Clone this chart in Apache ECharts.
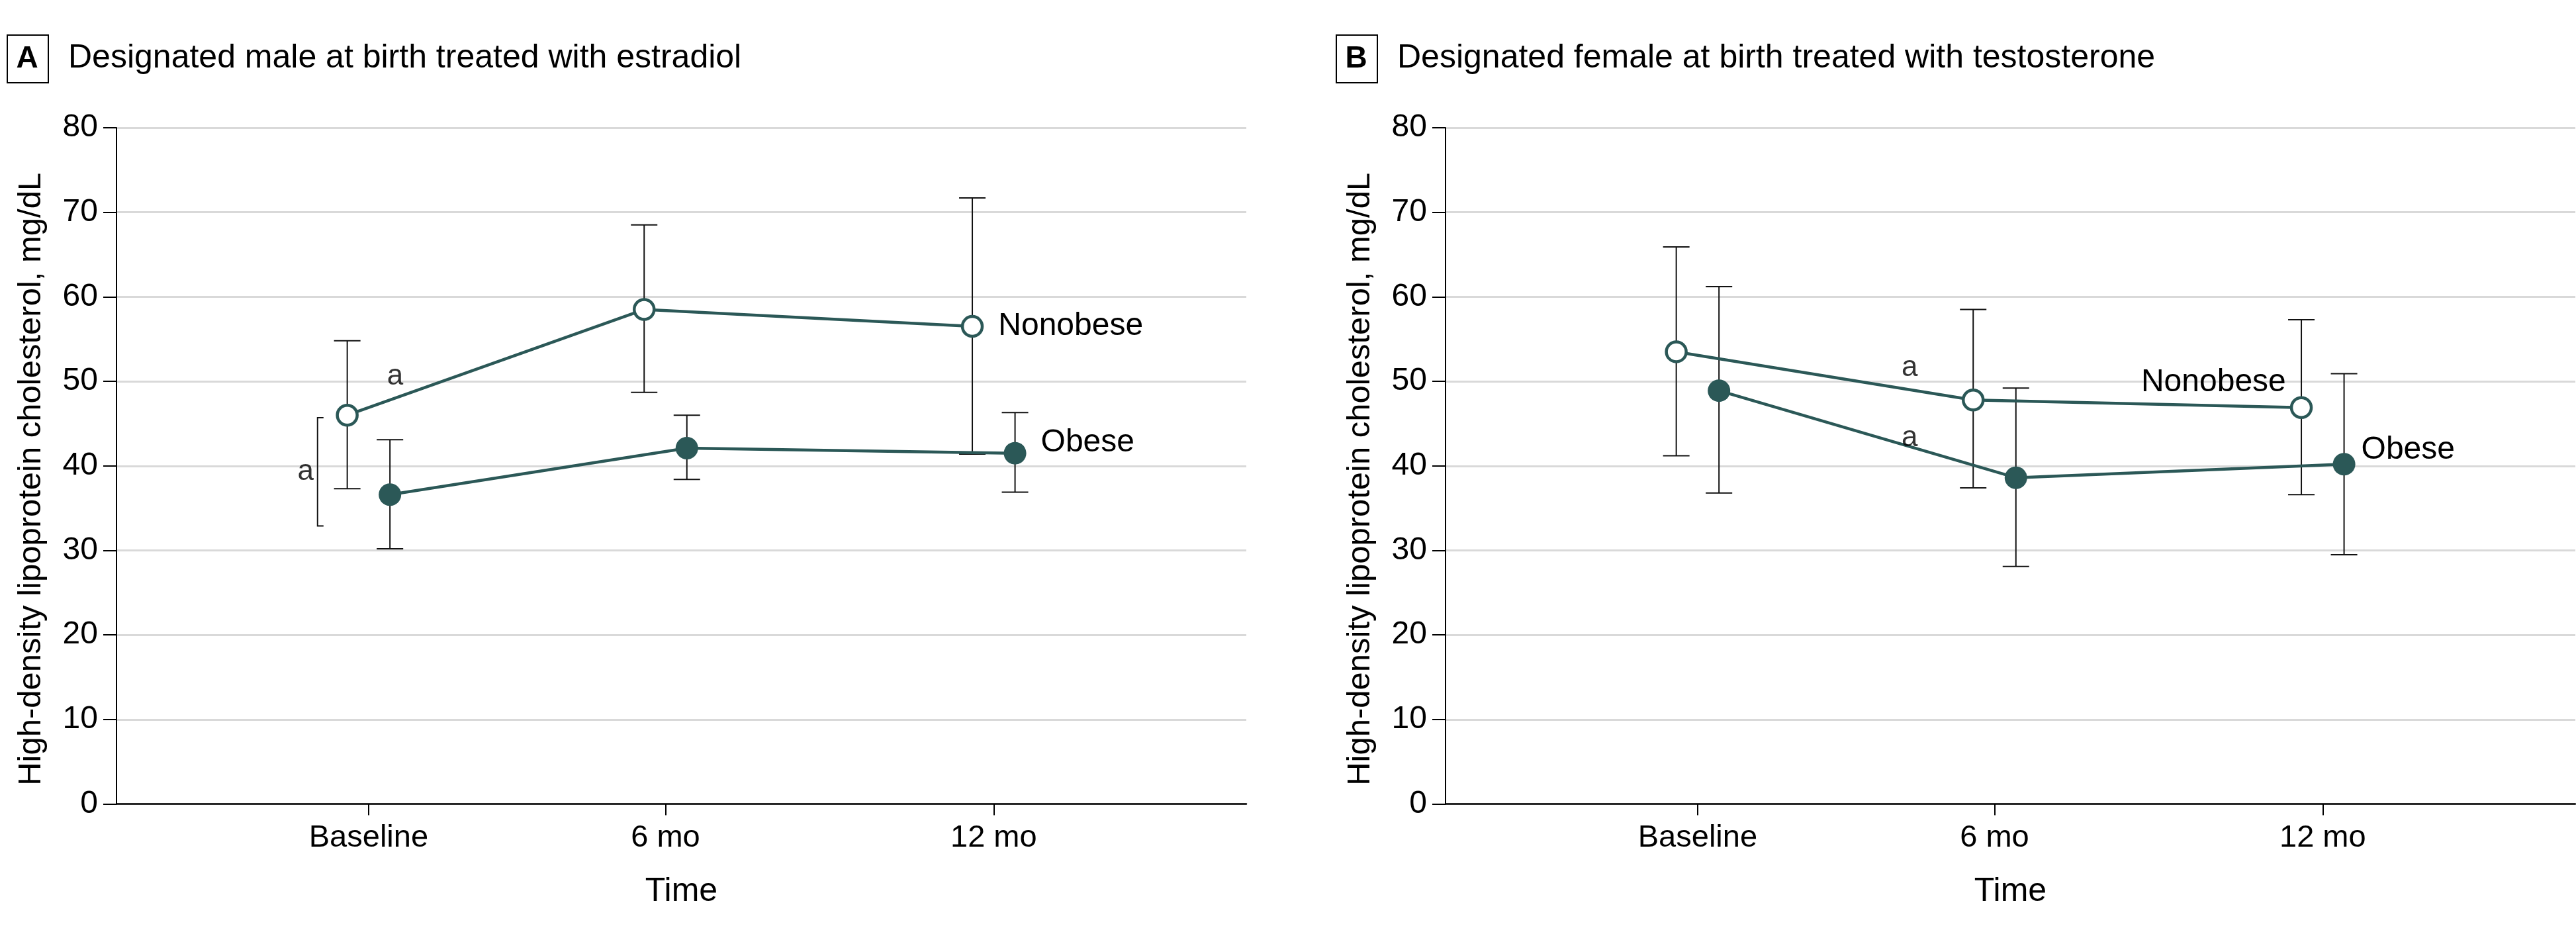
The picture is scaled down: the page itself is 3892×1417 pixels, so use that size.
<!DOCTYPE html>
<html><head><meta charset="utf-8">
<script src="https://cdn.jsdelivr.net/npm/echarts@6/dist/echarts.min.js"></script>
<style>html,body{margin:0;padding:0;background:#fff}#c{width:3892px;height:1417px}</style>
</head><body><div id="c"></div>
<script>
// ---- data ----
const timeLabels = ['Baseline', '6 mo', '12 mo'];
const timePos = [0, 5.7, 12];            // horizontal placement of each visit as drawn
const yTicks = [0, 10, 20, 30, 40, 50, 60, 70, 80];
const panelTitles = ['Designated male at birth treated with estradiol', 'Designated female at birth treated with testosterone'];
const panelLetters = ['A', 'B'];
const groupNames = ['Nonobese', 'Obese'];

// Panel A (estradiol)
const aNonobeseMean = [46.0, 58.5, 56.5];
const aNonobeseLow  = [37.3, 48.7, 41.4];
const aNonobeseHigh = [54.8, 68.5, 71.7];
const aObeseMean = [36.6, 42.1, 41.5];
const aObeseLow  = [30.2, 38.4, 36.9];
const aObeseHigh = [43.1, 46.0, 46.3];

// Panel B (testosterone)
const bNonobeseMean = [53.5, 47.8, 46.9];
const bNonobeseLow  = [41.2, 37.4, 36.6];
const bNonobeseHigh = [65.9, 58.5, 57.3];
const bObeseMean = [48.9, 38.6, 40.2];
const bObeseLow  = [36.8, 28.1, 29.5];
const bObeseHigh = [61.2, 49.2, 50.9];

// ---- layout / style ----
const TEAL = '#2b5857';
const FONT = "'Liberation Sans', Arial, sans-serif";
const DODGE = 0.41;
const X_MIN = -4.84, X_MAX = 16.85;
const gridsPx = [{ left: 176 }, { left: 2184 }];
// significance marks (data coordinates of panel)
const sigMarks = [
  [{ x: 0.51, y: 50.6 }],
  [{ x: 4.07, y: 51.6 }, { x: 4.07, y: 43.3 }]
];
const brackets = [[{ x: -0.98, y1: 32.9, y2: 45.7, lx: -1.21, ly: 39.3 }], []];
// end-label placement per panel: [nonobese, obese]
const endLabels = [
  [{ position: 'right', distance: 22, offset: [0, 0] }, { position: 'right', distance: 22, offset: [0, -16] }],
  [{ position: 'left', distance: 6, offset: [0, -38] }, { position: 'right', distance: 9, offset: [0, -21] }]
];

const panels = [
  { nm: aNonobeseMean, nl: aNonobeseLow, nh: aNonobeseHigh, om: aObeseMean, ol: aObeseLow, oh: aObeseHigh },
  { nm: bNonobeseMean, nl: bNonobeseLow, nh: bNonobeseHigh, om: bObeseMean, ol: bObeseLow, oh: bObeseHigh }
];

function renderErr(params, api) {
  const x = api.value(0), lo = api.value(1), hi = api.value(2);
  const p1 = api.coord([x, hi]), p2 = api.coord([x, lo]);
  const w = 20;
  const style = { stroke: '#111', lineWidth: 2, fill: null };
  return { type: 'group', children: [
    { type: 'line', shape: { x1: p1[0], y1: p1[1], x2: p2[0], y2: p2[1] }, style },
    { type: 'line', shape: { x1: p1[0] - w, y1: p1[1], x2: p1[0] + w, y2: p1[1] }, style },
    { type: 'line', shape: { x1: p2[0] - w, y1: p2[1], x2: p2[0] + w, y2: p2[1] }, style }
  ]};
}
function renderBracket(params, api) {
  const x = api.value(0), y1 = api.value(1), y2 = api.value(2);
  const p1 = api.coord([x, y2]), p2 = api.coord([x, y1]);
  const w = 9;
  const style = { stroke: '#111', lineWidth: 2, fill: null };
  return { type: 'polyline', shape: { points: [[p1[0] + w, p1[1]], p1, p2, [p2[0] + w, p2[1]]] }, style };
}

const labelMap = {};
timePos.forEach((v, i) => labelMap[v] = timeLabels[i]);

const grid = [], xAxis = [], yAxis = [], series = [], graphic = [];
panels.forEach((p, i) => {
  grid.push({ left: gridsPx[i].left, width: 1707, top: 193, bottom: 202.4, containLabel: false });
  xAxis.push({
    gridIndex: i, type: 'value', min: X_MIN, max: X_MAX,
    axisLine: { show: true, lineStyle: { color: '#000', width: 2.5 } },
    axisTick: { show: true, customValues: timePos, length: 17, lineStyle: { color: '#000', width: 2 } },
    axisLabel: { customValues: timePos, formatter: v => labelMap[v] || '', fontSize: 47, color: '#000', margin: 28, fontFamily: FONT },
    splitLine: { show: false },
    name: 'Time', nameLocation: 'middle', nameGap: 108,
    nameTextStyle: { fontSize: 50, color: '#000', fontFamily: FONT }
  });
  yAxis.push({
    gridIndex: i, type: 'value', min: 0, max: 80, interval: 10,
    axisLine: { show: true, onZero: false, lineStyle: { color: '#000', width: 2 } },
    axisTick: { show: true, length: 20, lineStyle: { color: '#000', width: 2 } },
    axisLabel: { fontSize: 48, color: '#000', margin: 28, fontFamily: FONT },
    splitLine: { show: true, lineStyle: { color: '#d9d9d9', width: 3 } },
    name: 'High-density lipoprotein cholesterol, mg/dL', nameLocation: 'middle', nameGap: 104,
    nameTextStyle: { fontSize: 49, color: '#000', fontFamily: FONT, padding: [0, 40, 0, 0] }
  });

  const nX = timePos.map(t => t - DODGE), oX = timePos.map(t => t + DODGE);
  series.push({
    type: 'custom', xAxisIndex: i, yAxisIndex: i, renderItem: renderErr, z: 2, silent: true,
    encode: { x: 0, y: [1, 2] },
    data: nX.map((x, k) => [x, p.nl[k], p.nh[k]])
  });
  series.push({
    type: 'custom', xAxisIndex: i, yAxisIndex: i, renderItem: renderErr, z: 2, silent: true,
    encode: { x: 0, y: [1, 2] },
    data: oX.map((x, k) => [x, p.ol[k], p.oh[k]])
  });
  const mkData = (xs, ms, lab, name) => xs.map((x, k) => {
    const d = { value: [x, ms[k]] };
    if (k === xs.length - 1) d.label = { show: true, formatter: name, position: lab.position, distance: lab.distance, offset: lab.offset, fontSize: 48, color: '#000', fontFamily: FONT };
    return d;
  });
  series.push({
    type: 'line', xAxisIndex: i, yAxisIndex: i, z: 5, silent: true,
    symbol: 'circle', symbolSize: 30,
    itemStyle: { color: '#fff', borderColor: TEAL, borderWidth: 4.5 },
    lineStyle: { color: TEAL, width: 4.5 },
    data: mkData(nX, p.nm, endLabels[i][0], groupNames[0])
  });
  series.push({
    type: 'line', xAxisIndex: i, yAxisIndex: i, z: 5, silent: true,
    symbol: 'circle', symbolSize: 34,
    itemStyle: { color: TEAL, borderColor: TEAL, borderWidth: 0 },
    lineStyle: { color: TEAL, width: 4.5 },
    data: mkData(oX, p.om, endLabels[i][1], groupNames[1])
  });
  // significance marks
  const sigData = sigMarks[i].map(s => [s.x, s.y]).concat(brackets[i].map(b => [b.lx, b.ly]));
  series.push({
    type: 'scatter', xAxisIndex: i, yAxisIndex: i, symbolSize: 0, silent: true, z: 6,
    label: { show: true, formatter: 'a', position: 'inside', fontSize: 44, color: '#000', fontFamily: FONT },
    data: sigData
  });
  if (brackets[i].length) {
    series.push({
      type: 'custom', xAxisIndex: i, yAxisIndex: i, renderItem: renderBracket, silent: true, z: 6,
      encode: { x: 0, y: [1, 2] },
      data: brackets[i].map(b => [b.x, b.y1, b.y2])
    });
  }
  // panel header
  const off = i * 2008;
  graphic.push({ type: 'rect', left: 10 + off, top: 52, shape: { width: 62, height: 72 },
    style: { fill: '#fff', stroke: '#000', lineWidth: 2 } });
  graphic.push({ type: 'text', x: 41 + off, y: 89, style: { text: panelLetters[i], font: 'bold 46px ' + FONT, fill: '#000', textAlign: 'center', textVerticalAlign: 'middle' } });
  graphic.push({ type: 'text', x: 103 + off, y: 88, style: { text: panelTitles[i], font: '50px ' + FONT, fill: '#000', textAlign: 'left', textVerticalAlign: 'middle' } });
});

const chart = echarts.init(document.getElementById('c'), null, { renderer: 'canvas' });
chart.setOption({ backgroundColor: '#fff', animation: false, grid, xAxis, yAxis, series, graphic });
</script>
</body></html>
